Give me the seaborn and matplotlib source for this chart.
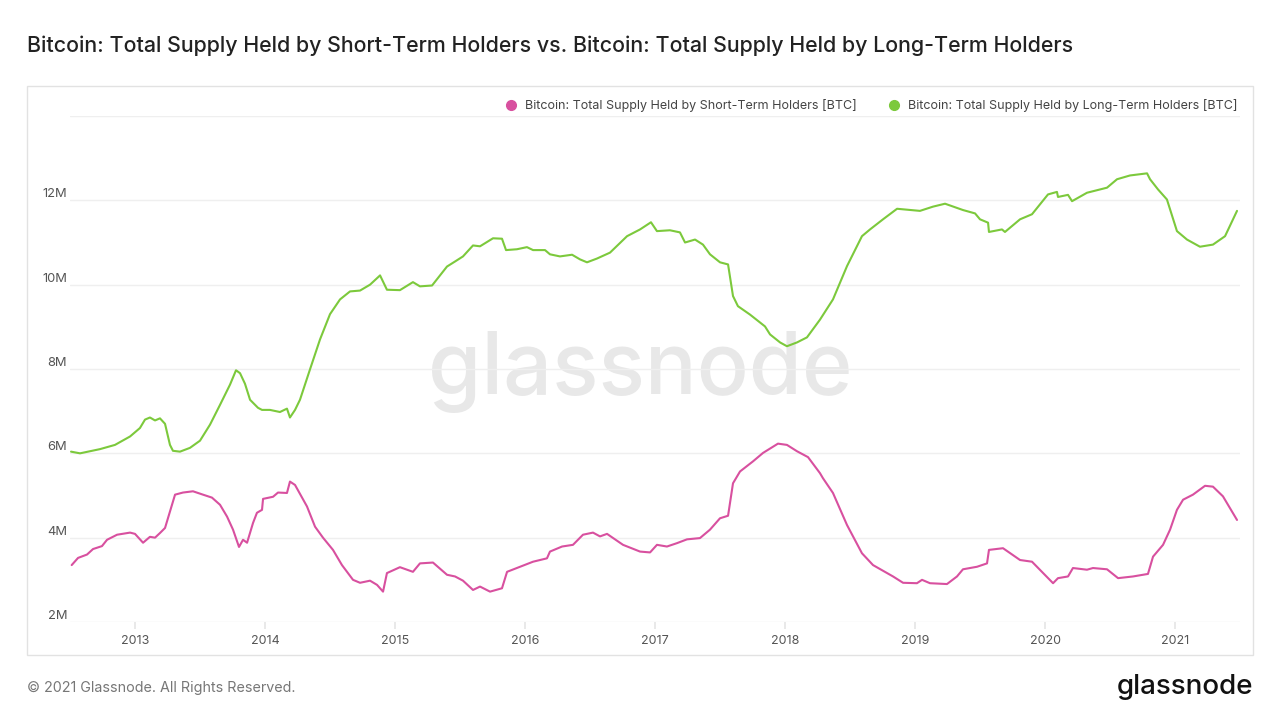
import numpy as np
import pandas as pd
import matplotlib.pyplot as plt
import matplotlib.patches as patches
from matplotlib.lines import Line2D
import seaborn as sns

# datos (anio decimal, millones de BTC)
lth_fecha = [2012.508, 2012.577, 2012.731, 2012.846, 2012.962, 2013.038, 2013.077, 2013.115, 2013.154, 2013.192,
             2013.231, 2013.269, 2013.292, 2013.346, 2013.423, 2013.500, 2013.577, 2013.654, 2013.731, 2013.777,
             2013.808, 2013.846, 2013.885, 2013.946, 2013.977, 2014.038, 2014.115, 2014.169, 2014.192, 2014.231,
             2014.269, 2014.346, 2014.423, 2014.500, 2014.577, 2014.654, 2014.731, 2014.808, 2014.885, 2014.938,
             2015.038, 2015.138, 2015.192, 2015.285, 2015.400, 2015.462, 2015.523, 2015.600, 2015.654, 2015.754,
             2015.823, 2015.854, 2015.938, 2016.015, 2016.062, 2016.154, 2016.192, 2016.269, 2016.362, 2016.423,
             2016.477, 2016.554, 2016.654, 2016.785, 2016.885, 2016.969, 2017.015, 2017.115, 2017.192, 2017.231,
             2017.308, 2017.369, 2017.423, 2017.500, 2017.562, 2017.600, 2017.638, 2017.731, 2017.846, 2017.885,
             2017.962, 2018.015, 2018.092, 2018.169, 2018.269, 2018.369, 2018.477, 2018.592, 2018.654, 2018.754,
             2018.862, 2019.038, 2019.138, 2019.231, 2019.369, 2019.462, 2019.500, 2019.562, 2019.569, 2019.669,
             2019.692, 2019.808, 2019.900, 2020.023, 2020.092, 2020.100, 2020.177, 2020.208, 2020.323, 2020.477,
             2020.554, 2020.654, 2020.785, 2020.808, 2020.869, 2020.938, 2021.015, 2021.092, 2021.192, 2021.292,
             2021.385, 2021.477]
lth_valor = [6.04, 6.00, 6.10, 6.20, 6.40, 6.60, 6.80, 6.85, 6.78, 6.83,
             6.70, 6.20, 6.06, 6.04, 6.13, 6.30, 6.68, 7.15, 7.63, 7.97,
             7.90, 7.65, 7.27, 7.08, 7.03, 7.03, 6.98, 7.06, 6.85, 7.03,
             7.27, 7.99, 8.70, 9.30, 9.65, 9.84, 9.86, 10.00, 10.22, 9.88,
             9.87, 10.06, 9.96, 9.98, 10.43, 10.55, 10.67, 10.93, 10.91, 11.10,
             11.09, 10.82, 10.84, 10.89, 10.82, 10.82, 10.72, 10.67, 10.71, 10.60,
             10.53, 10.62, 10.76, 11.15, 11.31, 11.48, 11.27, 11.29, 11.24, 11.00,
             11.07, 10.95, 10.72, 10.53, 10.48, 9.73, 9.49, 9.29, 9.01, 8.82,
             8.63, 8.54, 8.63, 8.75, 9.17, 9.65, 10.44, 11.15, 11.31, 11.55,
             11.80, 11.75, 11.85, 11.92, 11.77, 11.69, 11.55, 11.47, 11.25, 11.31,
             11.25, 11.55, 11.67, 12.14, 12.20, 12.08, 12.13, 11.98, 12.18, 12.30,
             12.50, 12.59, 12.64, 12.50, 12.26, 12.02, 11.27, 11.07, 10.90, 10.95,
             11.15, 11.75]

sth_fecha = [2012.513, 2012.562, 2012.631, 2012.677, 2012.746, 2012.785, 2012.862, 2012.962, 2013.000, 2013.062,
             2013.115, 2013.154, 2013.192, 2013.231, 2013.269, 2013.308, 2013.369, 2013.446, 2013.523, 2013.592,
             2013.654, 2013.708, 2013.754, 2013.800, 2013.831, 2013.862, 2013.908, 2013.938, 2013.977, 2013.985,
             2014.062, 2014.100, 2014.169, 2014.192, 2014.231, 2014.323, 2014.385, 2014.446, 2014.523, 2014.592,
             2014.677, 2014.731, 2014.808, 2014.862, 2014.908, 2014.938, 2015.038, 2015.138, 2015.192, 2015.292,
             2015.400, 2015.462, 2015.523, 2015.600, 2015.654, 2015.731, 2015.823, 2015.862, 2015.962, 2016.062,
             2016.169, 2016.192, 2016.285, 2016.369, 2016.446, 2016.523, 2016.577, 2016.631, 2016.754, 2016.885,
             2016.962, 2017.015, 2017.092, 2017.169, 2017.246, 2017.346, 2017.423, 2017.500, 2017.562, 2017.600,
             2017.654, 2017.754, 2017.831, 2017.946, 2018.015, 2018.092, 2018.177, 2018.269, 2018.292, 2018.369,
             2018.477, 2018.592, 2018.677, 2018.831, 2018.908, 2019.015, 2019.054, 2019.115, 2019.246, 2019.323,
             2019.369, 2019.477, 2019.554, 2019.569, 2019.677, 2019.808, 2019.900, 2020.062, 2020.100, 2020.177,
             2020.215, 2020.323, 2020.369, 2020.477, 2020.562, 2020.677, 2020.792, 2020.831, 2020.908, 2020.962,
             2021.015, 2021.062, 2021.138, 2021.231, 2021.292, 2021.369, 2021.477]
sth_valor = [3.35, 3.52, 3.60, 3.73, 3.80, 3.95, 4.07, 4.12, 4.09, 3.88,
             4.02, 4.00, 4.11, 4.23, 4.62, 5.02, 5.07, 5.10, 5.02, 4.95,
             4.78, 4.50, 4.19, 3.78, 3.95, 3.88, 4.35, 4.59, 4.66, 4.92,
             4.97, 5.07, 5.06, 5.33, 5.25, 4.74, 4.26, 4.00, 3.71, 3.35,
             3.00, 2.93, 2.98, 2.88, 2.72, 3.16, 3.30, 3.19, 3.39, 3.41,
             3.12, 3.08, 2.98, 2.76, 2.84, 2.72, 2.80, 3.19, 3.31, 3.43,
             3.51, 3.67, 3.79, 3.83, 4.07, 4.12, 4.03, 4.09, 3.83, 3.67,
             3.65, 3.83, 3.79, 3.87, 3.96, 3.99, 4.19, 4.46, 4.52, 5.29,
             5.57, 5.81, 6.01, 6.23, 6.20, 6.05, 5.91, 5.53, 5.41, 5.06,
             4.30, 3.63, 3.35, 3.08, 2.93, 2.92, 3.00, 2.92, 2.90, 3.08,
             3.25, 3.31, 3.39, 3.71, 3.75, 3.47, 3.43, 2.92, 3.04, 3.08,
             3.28, 3.24, 3.28, 3.25, 3.04, 3.08, 3.14, 3.55, 3.83, 4.19,
             4.66, 4.90, 5.02, 5.23, 5.21, 4.98, 4.42]

serie_sth = 'Bitcoin: Total Supply Held by Short-Term Holders [BTC]'
serie_lth = 'Bitcoin: Total Supply Held by Long-Term Holders [BTC]'
colores = {serie_sth: '#d8509f', serie_lth: '#7cc93c'}

anios = [2013, 2014, 2015, 2016, 2017, 2018, 2019, 2020, 2021]
ticks_y = [2, 4, 6, 8, 10, 12, 14]
etiquetas_y = ['2M', '4M', '6M', '8M', '10M', '12M', '']

df = pd.concat([
    pd.DataFrame({'fecha': sth_fecha, 'valor': sth_valor, 'serie': serie_sth}),
    pd.DataFrame({'fecha': lth_fecha, 'valor': lth_valor, 'serie': serie_lth}),
])

sns.set_theme(style='white')
plt.rcParams['font.family'] = ['Inter', 'DejaVu Sans']

fig = plt.figure(figsize=(12.8, 7.2), dpi=100)
ax = fig.add_axes([70 / 1280, 1 - 622 / 720, 1170 / 1280, 506 / 720])

# marco gris alrededor del grafico
fig.patches.append(patches.Rectangle((27 / 1280, 1 - 655 / 720), 1226 / 1280, 569 / 720,
                                     transform=fig.transFigure, fill=False,
                                     edgecolor='#e2e2e2', lw=1))

# marca de agua
ax.text(0.487, 0.494, 'glassnode', transform=ax.transAxes, ha='center', va='center',
        fontsize=62, color='#e8e8e8', fontweight='medium', zorder=0)

sns.lineplot(data=df, x='fecha', y='valor', hue='serie', palette=colores,
             estimator=None, sort=True, lw=1.5, ax=ax, legend=False, zorder=3)

ax.set_xlim(2012.5, 2021.5)
ax.set_ylim(2, 14)
ax.set_xticks(anios)
ax.set_xticklabels([str(a) for a in anios])
ax.set_yticks(ticks_y)
ax.set_yticklabels(etiquetas_y)
for t in ax.get_yticklabels():
    t.set_va('bottom')
ax.set_xlabel('')
ax.set_ylabel('')
ax.grid(axis='y', color='#efefef', lw=1)
ax.grid(axis='x', visible=False)
for s in ax.spines.values():
    s.set_visible(False)
ax.tick_params(axis='x', length=5, color='#e6e6e6', labelcolor='#555555', labelsize=9, pad=4, bottom=True)
ax.tick_params(axis='y', length=0, labelcolor='#555555', labelsize=9.3, pad=2)

manejadores = [Line2D([], [], marker='o', ls='', color=colores[s], markersize=7) for s in [serie_sth, serie_lth]]
ax.legend(manejadores, [serie_sth, serie_lth], loc='center right', bbox_to_anchor=(0.998, 1.02),
          ncol=2, frameon=False, fontsize=9, labelcolor='#444444', handletextpad=0.1,
          columnspacing=2.0, borderaxespad=0, borderpad=0)

fig.text(27 / 1280, 1 - 46 / 720,
         'Bitcoin: Total Supply Held by Short-Term Holders vs. Bitcoin: Total Supply Held by Long-Term Holders',
         fontsize=15.4, fontweight='medium', color='#222222', va='center', ha='left')
fig.text(27 / 1280, 1 - 688 / 720, '© 2021 Glassnode. All Rights Reserved.',
         fontsize=10.3, color='#777777', va='center', ha='left')
fig.text(1253 / 1280, 1 - 687 / 720, 'glassnode', fontsize=20, fontweight='medium',
         color='#111111', va='center', ha='right')

plt.savefig('out.png', dpi=100)
